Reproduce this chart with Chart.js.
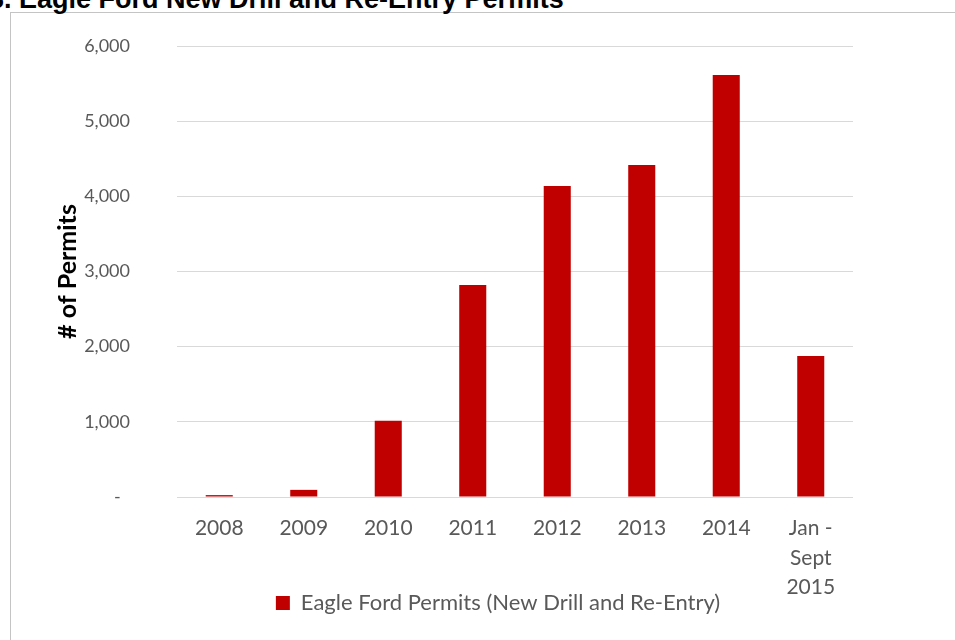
<!DOCTYPE html>
<html>
<head>
<meta charset="utf-8">
<script src="https://cdn.jsdelivr.net/npm/chart.js@4"></script>
<style>
  html, body { margin: 0; padding: 0; background: #fff; overflow: hidden; }
  body { width: 955px; height: 640px; position: relative; }
  .title {
    position: absolute; left: -11px; top: -14px; white-space: nowrap;
    font: bold 27px/27px "Liberation Sans", Arial, sans-serif; color: #000;
  }
  .frame {
    position: absolute; left: 10px; top: 12px; width: 1000px; height: 700px;
    border: 1px solid #c4c4c4; box-sizing: border-box;
  }
  .wrap { position: absolute; left: 0; top: 0; width: 996px; height: 640px; }
</style>
</head>
<body>
<div class="frame"></div>
<div class="title">3. Eagle Ford New Drill and Re-Entry Permits</div>
<div class="wrap"><canvas id="permitsChart"></canvas></div>
<script>
// Permit counts
const years = ["2008", "2009", "2010", "2011", "2012", "2013", "2014", ["Jan -", "Sept", "2015"]];
const permits = [25, 95, 1013, 2820, 4137, 4416, 5614, 1876];
const yTicks = [0, 1000, 2000, 3000, 4000, 5000, 6000];
const seriesName = "Eagle Ford Permits (New Drill and Re-Entry)";

const grey = "#595959";

// let the multi-line x labels run down beside the legend (Excel style)
const labelRoom = {
  id: "labelRoom",
  afterLayout: c => { c.scales.x.bottom = c.height; }
};

let chart;
function initChart() {
  const ctx = document.getElementById("permitsChart").getContext("2d");
  chart = new Chart(ctx, {
    type: "bar",
    data: {
      labels: years,
      datasets: [
        { label: seriesName, data: permits, backgroundColor: "#C00000", borderWidth: 0,
          categoryPercentage: 1, barPercentage: 0.32 }
      ]
    },
    plugins: [labelRoom],
    options: {
      responsive: true,
      maintainAspectRatio: false,
      animation: false,
      layout: { padding: { top: 46, left: 0, right: 0, bottom: 16 } },
      plugins: {
        tooltip: { enabled: false },
        legend: {
          position: "bottom",
          labels: { color: grey, font: { family: "Lato", size: 22 }, boxWidth: 14, boxHeight: 14, padding: 10 }
        }
      },
      scales: {
        x: {
          grid: { display: false },
          border: { display: false },
          ticks: { color: grey, font: { family: "Lato", size: 21, lineHeight: 1.4 }, padding: 9, maxRotation: 0 },
          afterFit: s => { s.height = 85; }
        },
        y: {
          min: 0, max: 6000,
          afterBuildTicks: s => { s.ticks = yTicks.map(v => ({ value: v })); },
          // invisible tick marks keep the labels away from the plot without padding the top
          grid: { color: "#d9d9d9", drawTicks: true, tickLength: 40, tickColor: "rgba(0,0,0,0)" },
          border: { display: false },
          ticks: {
            color: grey, font: { family: "Lato", size: 18 }, padding: 7,
            callback: v => v === 0 ? "-  " : v.toLocaleString("en-US")
          },
          title: {
            display: true, text: "# of Permits", color: "#000",
            font: { family: "Lato", size: 25, weight: "bold" },
            padding: { top: 53, bottom: 0 }
          },
          afterFit: s => { s.width = 177; }
        },
        yRight: {
          position: "right",
          grid: { display: false },
          border: { display: false },
          ticks: { display: false },
          afterFit: s => { s.width = 143; }
        }
      }
    }
  });
}

window.addEventListener("DOMContentLoaded", initChart);
</script>
</body>
</html>
